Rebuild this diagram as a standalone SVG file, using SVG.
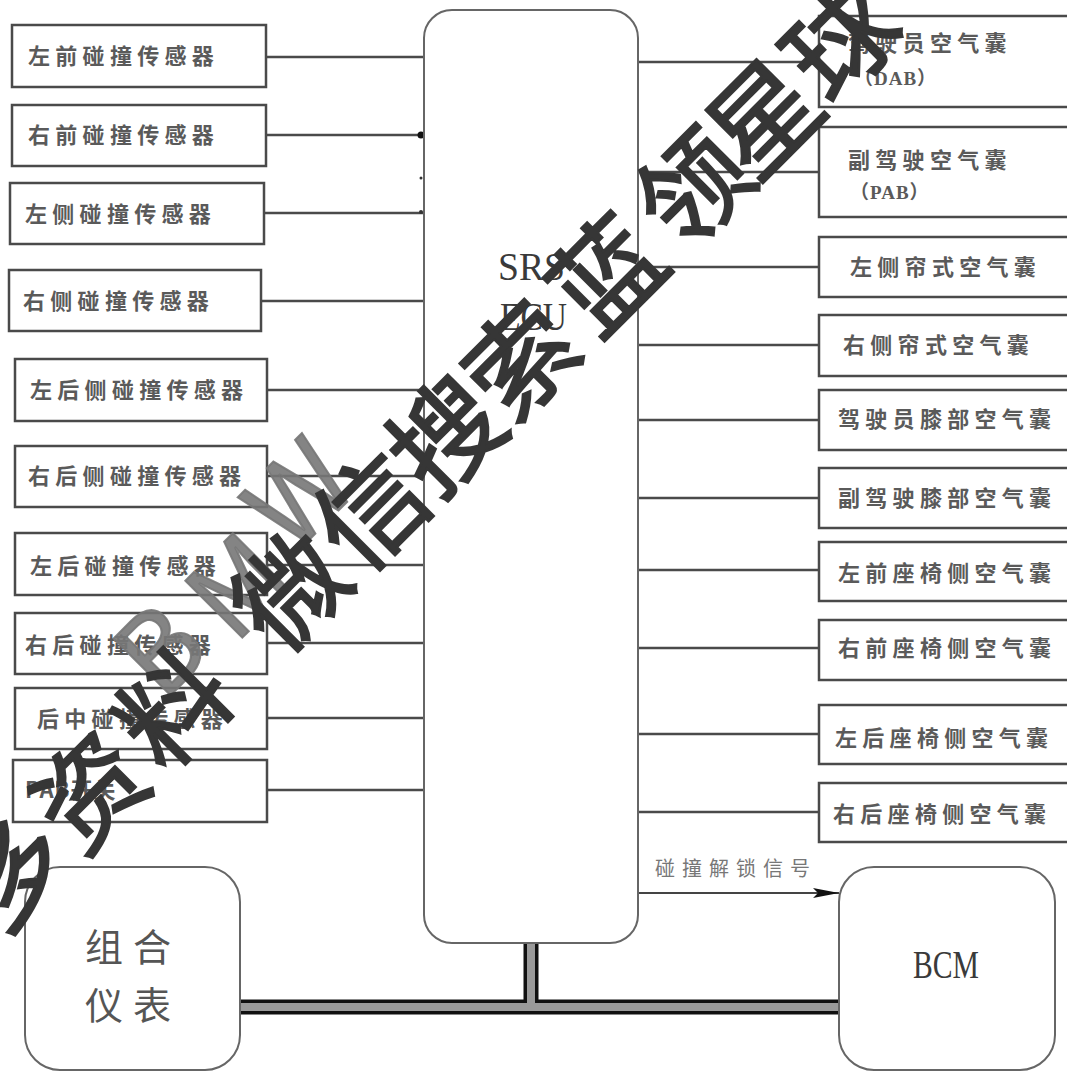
<svg xmlns="http://www.w3.org/2000/svg" width="1067" height="1072" viewBox="0 0 1067 1072">
<defs>
<style>
.box{fill:#fff;stroke:#4a4a4a;stroke-width:2.5}
.rbox{fill:#fff;stroke:#666;stroke-width:2}
.wire{stroke:#4a4a4a;stroke-width:2.5;fill:none}
.lbl{font-family:"Noto Sans CJK SC","Noto Sans",sans-serif;font-size:22px;fill:#5a5a5a;letter-spacing:5.3px;font-weight:bold}
.sub{font-family:"Liberation Serif","Noto Sans CJK SC",serif;font-size:19px;fill:#5a5a5a;font-weight:bold;letter-spacing:1px}
.big{font-family:"Liberation Serif",serif;font-size:40px;fill:#3a3a3a}
.cjkbig{font-family:"Noto Sans CJK SC",sans-serif;font-size:38px;fill:#555;letter-spacing:10px}
.wm{font-family:"Noto Sans CJK SC",sans-serif;font-size:108px;font-weight:normal}
</style>
<marker id="arr" viewBox="0 0 26 10" refX="26" refY="5" markerWidth="26" markerHeight="10" markerUnits="userSpaceOnUse" orient="auto">
<path d="M0,0 L26,5 L0,10 L5,5 Z" fill="#111"/>
</marker>
</defs>
<rect width="1067" height="1072" fill="#fff"/>

<g id="connectors">
<path class="wire" d="M266,57 H424 M266,135 H424 M264,213 H424 M261,301 H424 M267,390 H424 M267,476 H424 M267,565 H424 M267,643 H424 M267,718 H424 M267,790 H424"/>
<path class="wire" d="M638,62 H819 M638,172 H819 M638,267 H819 M638,345 H819 M638,420 H819 M638,498 H819 M638,570 H819 M638,648 H819 M638,734 H819 M638,812 H819"/>
<circle cx="421" cy="135" r="3.5" fill="#111"/>
<circle cx="421" cy="178" r="1.5" fill="#333"/>
<circle cx="421" cy="212" r="2" fill="#333"/>
<path d="M638,893 H839" stroke="#444" stroke-width="2" fill="none" marker-end="url(#arr)"/>
<text x="655" y="876" class="lbl" style="font-size:20px;letter-spacing:7px;font-weight:normal;fill:#777">碰撞解锁信号</text>
<path d="M240,1007 H839 M531,943 V1007" stroke="#111" stroke-width="15" fill="none"/>
<path d="M240,1007 H839 M531,943 V1007" stroke="#9a9a9a" stroke-width="8" fill="none"/>
</g>

<g id="ecu">
<rect class="rbox" x="424" y="10" width="214" height="933" rx="28"/>
<text class="big" x="498" y="280" textLength="67" lengthAdjust="spacingAndGlyphs">SRS</text>
<text class="big" x="500" y="330" textLength="67" lengthAdjust="spacingAndGlyphs">ECU</text>
</g>

<g id="s1"><rect class="box" x="12" y="25" width="254" height="62"/><text class="lbl" x="28" y="64">左前碰撞传感器</text></g>
<g id="s2"><rect class="box" x="12" y="105" width="254" height="61"/><text class="lbl" x="28" y="143">右前碰撞传感器</text></g>
<g id="s3"><rect class="box" x="10" y="183" width="254" height="61"/><text class="lbl" x="25" y="222">左侧碰撞传感器</text></g>
<g id="s4"><rect class="box" x="9" y="270" width="252" height="61"/><text class="lbl" x="23" y="309">右侧碰撞传感器</text></g>
<g id="s5"><rect class="box" x="15" y="359" width="252" height="62"/><text class="lbl" x="30" y="398">左后侧碰撞传感器</text></g>
<g id="s6"><rect class="box" x="15" y="446" width="252" height="61"/><text class="lbl" x="28" y="484">右后侧碰撞传感器</text></g>
<g id="s7"><rect class="box" x="15" y="533" width="252" height="62"/><text class="lbl" x="30" y="574">左后碰撞传感器</text></g>
<g id="s8"><rect class="box" x="15" y="613" width="252" height="61"/><text class="lbl" x="25" y="653">右后碰撞传感器</text></g>
<g id="s9"><rect class="box" x="15" y="688" width="252" height="61"/><text class="lbl" x="37" y="727">后中碰撞传感器</text></g>
<g id="s10"><rect class="box" x="13" y="760" width="254" height="62"/><text class="lbl" x="25" y="798" style="letter-spacing:1px">PAB开关</text></g>

<g id="a1"><rect class="box" x="819" y="16" width="260" height="91"/><text class="lbl" x="848" y="51">驾驶员空气囊</text><text class="sub" x="854" y="85">（DAB）</text></g>
<g id="a2"><rect class="box" x="819" y="127" width="260" height="90"/><text class="lbl" x="848" y="168">副驾驶空气囊</text><text class="sub" x="850" y="199">（PAB）</text></g>
<g id="a3"><rect class="box" x="819" y="237" width="260" height="60"/><text class="lbl" x="850" y="275">左侧帘式空气囊</text></g>
<g id="a4"><rect class="box" x="819" y="315" width="260" height="61"/><text class="lbl" x="843" y="353">右侧帘式空气囊</text></g>
<g id="a5"><rect class="box" x="819" y="390" width="260" height="60"/><text class="lbl" x="838" y="427">驾驶员膝部空气囊</text></g>
<g id="a6"><rect class="box" x="819" y="468" width="260" height="60"/><text class="lbl" x="838" y="506">副驾驶膝部空气囊</text></g>
<g id="a7"><rect class="box" x="819" y="542" width="260" height="59"/><text class="lbl" x="838" y="581">左前座椅侧空气囊</text></g>
<g id="a8"><rect class="box" x="819" y="620" width="260" height="60"/><text class="lbl" x="838" y="656">右前座椅侧空气囊</text></g>
<g id="a9"><rect class="box" x="819" y="705" width="260" height="59"/><text class="lbl" x="835" y="746">左后座椅侧空气囊</text></g>
<g id="a10"><rect class="box" x="819" y="783" width="260" height="59"/><text class="lbl" x="833" y="822">右后座椅侧空气囊</text></g>

<g id="cluster">
<rect class="rbox" x="25" y="867" width="215" height="203" rx="35"/>
<text class="cjkbig" x="85" y="961">组合</text>
<text class="cjkbig" x="85" y="1019">仪表</text>
</g>

<g id="bcm">
<rect class="rbox" x="839" y="867" width="216" height="203" rx="35"/>
<text class="big" x="913" y="978" textLength="66" lengthAdjust="spacingAndGlyphs">BCM</text>
</g>

<g id="watermark" transform="translate(10,870) rotate(-45)">
<text class="wm" fill="#777" stroke="#777" stroke-width="2" fill-opacity="0.9" stroke-opacity="0.9" text-anchor="middle" x="262 362 470" y="-10 0 -22" style="font-size:110px">BMW</text>
<text class="wm" fill="#363636" stroke="#363636" stroke-width="2.5" text-anchor="middle" x="0 112 230 396 509 615 722 843 965 1065 1174" y="41">多资料微信搜索蓝领星球</text>
</g>
</svg>
